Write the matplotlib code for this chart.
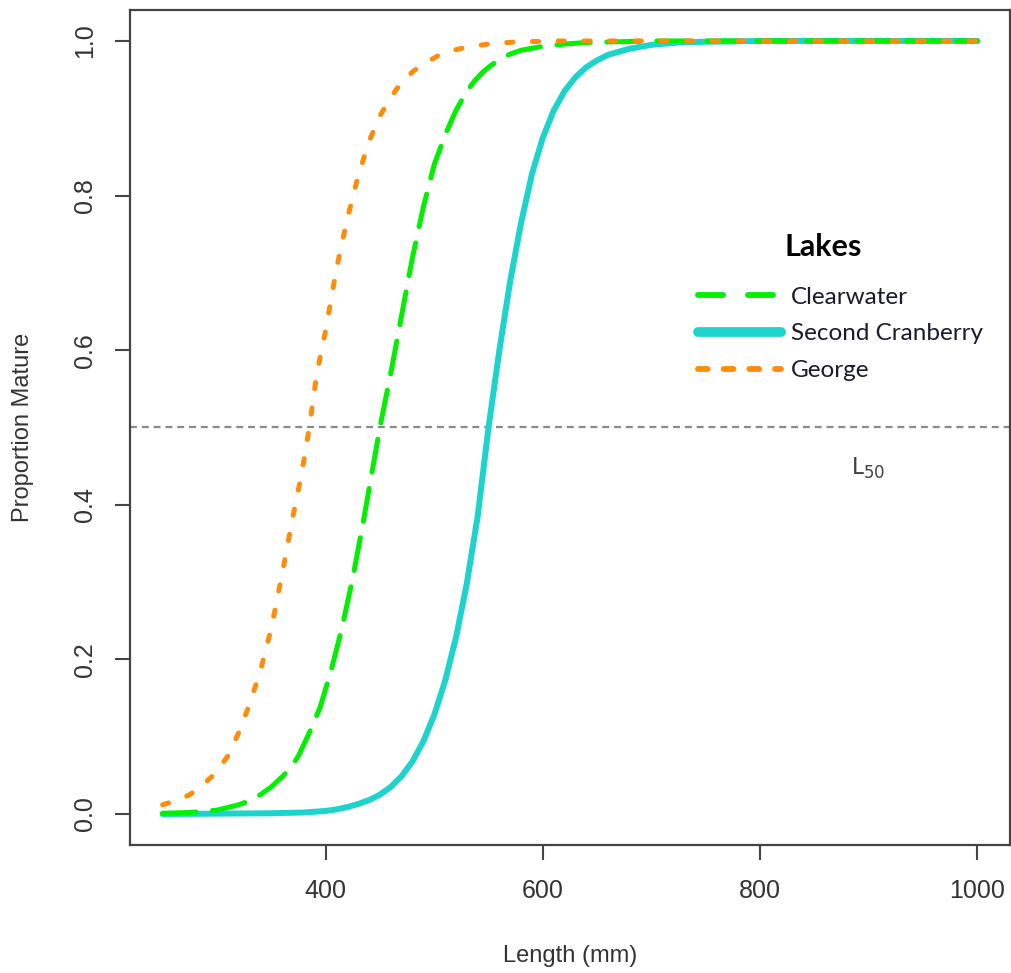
import matplotlib.pyplot as plt
from matplotlib.lines import Line2D

plt.rcParams['lines.scale_dashes'] = False
plt.rcParams['font.family'] = ['Liberation Sans', 'DejaVu Sans']

# Proportion mature, per lake
george_len = [250, 262, 275, 285, 295, 303, 310, 320, 330, 340, 350, 360, 370, 378,
              385, 392, 400, 410, 420, 430, 440, 450, 458, 465, 472, 480, 490, 505,
              518, 530, 555, 580, 620, 700, 1000]
george_p = [0.012, 0.017, 0.025, 0.035, 0.048, 0.061, 0.075, 0.105, 0.142, 0.185,
            0.24, 0.31, 0.385, 0.44, 0.5, 0.57, 0.625, 0.705, 0.77, 0.825, 0.87,
            0.903, 0.922, 0.937, 0.949, 0.96, 0.97, 0.982, 0.988, 0.992, 0.997,
            0.999, 1.0, 1.0, 1.0]

clear_len = [250, 275, 300, 320, 330, 340, 350, 360, 368, 375, 385, 395, 405, 415,
             425, 435, 445, 450, 460, 470, 480, 490, 500, 510, 520, 530, 537, 545,
             552, 560, 570, 580, 600, 620, 640, 700, 1000]
clear_p = [0.001, 0.002, 0.005, 0.012, 0.017, 0.025, 0.035, 0.048, 0.06, 0.075,
           0.105, 0.138, 0.185, 0.24, 0.305, 0.38, 0.46, 0.5, 0.57, 0.645, 0.72,
           0.785, 0.84, 0.878, 0.91, 0.935, 0.948, 0.96, 0.968, 0.976, 0.983, 0.988,
           0.993, 0.996, 0.998, 1.0, 1.0]

cran_len = [250, 300, 350, 380, 400, 410, 420, 430, 440, 450, 460, 470, 480, 490,
            500, 510, 520, 530, 540, 550, 560, 570, 580, 590, 600, 610, 620, 630,
            640, 650, 660, 680, 700, 725, 750, 800, 1000]
cran_p = [0.0, 0.0005, 0.001, 0.002, 0.004, 0.006, 0.009, 0.013, 0.018, 0.025,
          0.035, 0.049, 0.068, 0.094, 0.128, 0.172, 0.228, 0.298, 0.385, 0.5, 0.6,
          0.69, 0.765, 0.828, 0.875, 0.91, 0.935, 0.953, 0.966, 0.975, 0.982, 0.99,
          0.995, 0.998, 0.999, 1.0, 1.0]

lakes = ['Clearwater', 'Second Cranberry', 'George']
colors = ['#00F000', '#1CD4CC', '#FF8C0A']

fig = plt.figure(figsize=(10.11, 9.73), dpi=100)
ax = fig.add_axes([0.1286, 0.1316, 0.8704, 0.8581])

ax.axhline(0.5, color='#8a8a8a', lw=1.6, dashes=(5, 3.5))

ax.plot(cran_len, cran_p, color=colors[1], lw=4.3, solid_capstyle='round',
        solid_joinstyle='round')
ax.plot(clear_len, clear_p, color=colors[0], lw=3.6, dashes=(24, 12),
        dash_capstyle='round', dash_joinstyle='round')
ax.plot(george_len, george_p, color=colors[2], lw=3.6, dashes=(4.5, 14),
        dash_capstyle='round', dash_joinstyle='round')

ax.set_xlim(220, 1030)
ax.set_ylim(-0.04, 1.04)
ax.set_xticks([400, 600, 800, 1000])
ax.set_yticks([0.0, 0.2, 0.4, 0.6, 0.8, 1.0])
ax.set_yticklabels(['0.0', '0.2', '0.4', '0.6', '0.8', '1.0'], rotation=90, va='center')
ax.tick_params(length=10.5, width=1.5, color='#444444', labelsize=18,
               labelcolor='#333333')
ax.tick_params(axis='x', pad=14)
ax.tick_params(axis='y', pad=13)
for s in ax.spines.values():
    s.set_color('#444444')
    s.set_linewidth(1.6)

ax.set_xlabel('Length (mm)', fontsize=17, color='#333333', labelpad=30)
ax.set_ylabel('Proportion Mature', fontsize=17, color='#333333', labelpad=28)

ax.text(899, 0.447, 'L$_{50}$', fontsize=17, color='#404040', family='Lato',
        ha='center', va='center')

# legend drawn by hand to mimic the pasted-in key
ax.text(858, 0.734, 'Lakes', fontsize=22, fontweight='bold', family='Lato',
        ha='center', va='center', color='black')
handles = [
    Line2D([], [], color=colors[0], lw=4.2, dashes=(18, 18), dash_capstyle='round'),
    Line2D([], [], color=colors[1], lw=7, solid_capstyle='round'),
    Line2D([], [], color=colors[2], lw=4.2, dashes=(7, 11.5), dash_capstyle='round'),
]
leg = ax.legend(handles, lakes, loc='center left', bbox_to_anchor=(0.621, 0.612),
                frameon=False, handlelength=3.4, handletextpad=0.42,
                labelspacing=0.65, prop={'family': 'Lato', 'size': 17.5})
for t in leg.get_texts():
    t.set_color('#1a1a2a')

fig.savefig('out.png', dpi=100)
